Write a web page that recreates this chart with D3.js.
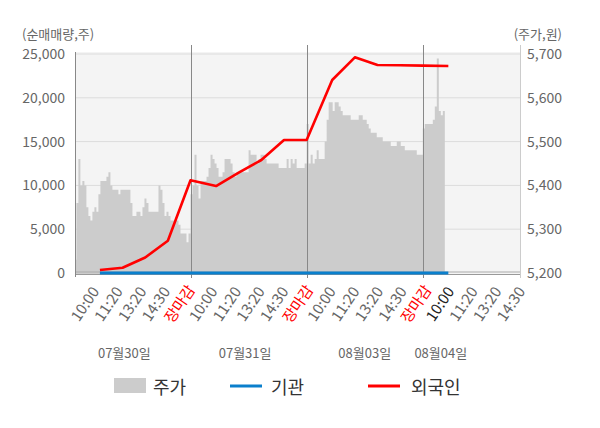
<!DOCTYPE html>
<html>
<head>
<meta charset="utf-8">
<script src="https://cdn.jsdelivr.net/npm/d3@7"></script>
<style>
  body { margin: 0; background: #fff; }
  svg { display: block; font-family: "Noto Sans CJK KR", "Noto Sans", sans-serif; }
</style>
</head>
<body>
<svg id="chart" width="600" height="428"></svg>
<script>
// trading days and intraday label slots
const dayNames = ['07월30일', '07월31일', '08월03일', '08월04일'];
const timeLabels = ['10:00', '11:20', '13:20', '14:30', '장마감'];

// cumulative net buying (shares) at each labelled slot
const foreign = [350, 600, 1770, 3690, 10580, 9930, 11450, 12900, 15180, 15180,
  22030, 24620, 23740, 23710, 23670, 23630];
const institution = [0, 0, 0, 0, 0, 0, 0, 0, 0, 0, 0, 0, 0, 0, 0, 0];

// share price (won), sampled evenly through each session
const priceD1 = [5230, 5360, 5460, 5400, 5410, 5400, 5350, 5330, 5320, 5340,
  5350, 5340, 5380, 5410, 5410, 5410, 5420, 5430, 5400, 5390,
  5390, 5390, 5380, 5390, 5390, 5390, 5390, 5390, 5360, 5330,
  5330, 5340, 5340, 5330, 5350, 5370, 5360, 5340, 5340, 5340,
  5340, 5340, 5400, 5390, 5360, 5330, 5340, 5330, 5320, 5320,
  5320, 5320, 5310, 5290, 5290, 5290, 5270, 5290];
const priceD2 = [5380, 5400, 5470, 5400, 5370, 5410, 5410, 5410, 5420, 5440,
  5470, 5460, 5450, 5440, 5420, 5420, 5430, 5460, 5460, 5460,
  5450, 5430, 5420, 5430, 5430, 5430, 5430, 5430, 5430, 5480,
  5470, 5470, 5470, 5450, 5460, 5470, 5470, 5460, 5450, 5450,
  5450, 5450, 5450, 5450, 5440, 5440, 5440, 5440, 5460, 5440,
  5460, 5450, 5460, 5440, 5440, 5440, 5440, 5450];
const priceD3 = [5540, 5450, 5470, 5450, 5460, 5480, 5460, 5460, 5460, 5500,
  5550, 5590, 5590, 5570, 5590, 5590, 5580, 5570, 5560, 5560,
  5560, 5560, 5550, 5550, 5550, 5550, 5560, 5560, 5550, 5550,
  5540, 5530, 5520, 5520, 5520, 5510, 5510, 5510, 5500, 5500,
  5500, 5500, 5490, 5490, 5490, 5500, 5500, 5490, 5490, 5480,
  5480, 5480, 5480, 5480, 5480, 5470, 5470, 5470];
const priceD4 = [5530, 5540, 5540, 5540, 5540, 5550, 5580, 5690, 5570, 5560, 5570];

const leftTicks = [0, 5000, 10000, 15000, 20000, 25000];
const rightTicks = [5200, 5300, 5400, 5500, 5600, 5700];

// layout
const plot = { l: 76, r: 520, t: 52, b: 274 };
const STEP = 1 / 58;      // one price sample, in days
const TICK_GAP = 0.195;   // spacing of time slots, in days
const DATE_POS = [0.43, 1.47, 2.5, 3.155];
const FONT = '"Noto Sans CJK KR", "Noto Sans", sans-serif';

const svg = d3.select('#chart');

const x = d3.scaleLinear().domain([0.014, 3.837]).range([plot.l, plot.r]);
const yL = d3.scaleLinear().domain([0, 25000]).range([273, 54]);
const yR = d3.scaleLinear().domain([5200, 5700]).range([273, 54]);

// slots: 10:00 .. 장마감 for every day, trimmed to the visible range
const slots = dayNames.flatMap((dn, d) => timeLabels.map((lab, k) => ({
  d, k, lab, t: d + 1 - (4 - k) * TICK_GAP
}))).filter(s => s.t <= x.domain()[1]);

// the time labels sit evenly under the plot
const xLabel = d3.scalePoint().domain(d3.range(slots.length)).range([85, 511]);

// background
svg.append('rect')
  .attr('x', plot.l).attr('y', plot.t)
  .attr('width', plot.r - plot.l).attr('height', plot.b - plot.t)
  .attr('fill', '#f4f4f4');

svg.append('defs').append('clipPath').attr('id', 'clip')
  .append('rect')
  .attr('x', plot.l).attr('y', 40)
  .attr('width', plot.r - plot.l).attr('height', plot.b - 40);

// grid
svg.append('g').selectAll('line')
  .data(leftTicks.filter(v => v > 0))
  .join('line')
  .attr('x1', plot.l).attr('x2', plot.r)
  .attr('y1', d => yL(d)).attr('y2', d => yL(d))
  .attr('stroke', '#dcdcdc').attr('stroke-width', 1);

// price area
const pricePts = [priceD1, priceD2, priceD3, priceD4]
  .flatMap((arr, d) => arr.map((p, i) => ({ t: d + i * STEP, p })));
const lastPt = pricePts[pricePts.length - 1];
pricePts.push({ t: lastPt.t + STEP, p: lastPt.p });

svg.append('path')
  .datum(pricePts)
  .attr('clip-path', 'url(#clip)')
  .attr('fill', '#cccccc')
  .attr('d', d3.area()
    .curve(d3.curveStepAfter)
    .x(d => x(d.t))
    .y0(plot.b)
    .y1(d => yR(d.p)));

// zero line and bottom axis
svg.append('line')
  .attr('x1', plot.l).attr('x2', plot.r)
  .attr('y1', yL(0) - 1).attr('y2', yL(0) - 1)
  .attr('stroke', '#aaa');
svg.append('line')
  .attr('x1', plot.l).attr('x2', plot.r)
  .attr('y1', plot.b + 0.5).attr('y2', plot.b + 0.5)
  .attr('stroke', '#999');

// day separators
svg.append('g').selectAll('line')
  .data([1, 2, 3])
  .join('line')
  .attr('x1', d => Math.round(x(d)) + 0.5).attr('x2', d => Math.round(x(d)) + 0.5)
  .attr('y1', 45).attr('y2', plot.b + 4)
  .attr('stroke', '#888');

// side axis lines
svg.append('line')
  .attr('x1', plot.l - 0.5).attr('x2', plot.l - 0.5)
  .attr('y1', plot.t).attr('y2', plot.b + 3)
  .attr('stroke', '#888');
svg.append('line')
  .attr('x1', plot.r + 0.5).attr('x2', plot.r + 0.5)
  .attr('y1', 45).attr('y2', plot.b + 4)
  .attr('stroke', '#ccc');

// series lines
const line = d3.line().x(d => x(d.s.t)).y(d => yL(d.v));
const seriesPts = vals => vals.map((v, i) => ({ s: slots[i], v }));

svg.append('path')
  .datum(seriesPts(institution))
  .attr('fill', 'none')
  .attr('stroke', '#0a7fcc')
  .attr('stroke-width', 3)
  .attr('d', line);

svg.append('path')
  .datum(seriesPts(foreign))
  .attr('fill', 'none')
  .attr('stroke', '#ff0000')
  .attr('stroke-width', 2.6)
  .attr('stroke-linejoin', 'round')
  .attr('d', line);

// left axis
const leftAxis = svg.append('g')
  .attr('transform', `translate(${plot.l},0)`)
  .call(d3.axisLeft(yL).tickValues(leftTicks).tickSize(0).tickPadding(11)
    .tickFormat(d3.format(',')));
leftAxis.select('.domain').remove();
leftAxis.selectAll('text')
  .attr('fill', '#666').style('font-size', '14px').style('font-family', FONT);

// right axis
const rightAxis = svg.append('g')
  .attr('transform', `translate(${plot.r},0)`)
  .call(d3.axisRight(yR).tickValues(rightTicks).tickSize(0).tickPadding(7)
    .tickFormat(d3.format(',')));
rightAxis.select('.domain').remove();
rightAxis.selectAll('text')
  .attr('fill', '#666').style('font-size', '14px').style('font-family', FONT);

// time labels
svg.append('g').selectAll('text')
  .data(slots)
  .join('text')
  .attr('transform', (s, i) => `translate(${xLabel(i)},304) rotate(-56)`)
  .attr('text-anchor', 'middle')
  .attr('dy', '0.35em')
  .style('font-size', '15px')
  .attr('fill', s => {
    if (s.lab === '장마감') return '#ff0000';
    if (s.d === 3 && s.k === 0) return '#222';
    return '#666';
  })
  .text(s => s.lab);

// date labels
svg.append('g').selectAll('text')
  .data(dayNames)
  .join('text')
  .attr('x', (d, i) => x(DATE_POS[i]))
  .attr('y', 358)
  .attr('text-anchor', 'middle')
  .attr('fill', '#666')
  .style('font-size', '13px')
  .text(d => d);

// axis titles
svg.append('text')
  .attr('x', 22).attr('y', 39)
  .attr('fill', '#666').style('font-size', '13px')
  .text('(순매매량,주)');
svg.append('text')
  .attr('x', 562).attr('y', 39)
  .attr('text-anchor', 'end')
  .attr('fill', '#666').style('font-size', '13px')
  .text('(주가,원)');

// legend
const legend = svg.append('g').style('font-size', '18px');
legend.append('rect')
  .attr('x', 114).attr('y', 378).attr('width', 32).attr('height', 15)
  .attr('fill', '#cccccc');
legend.append('text').attr('x', 153).attr('y', 394).attr('fill', '#333').text('주가');
legend.append('line')
  .attr('x1', 230).attr('x2', 262).attr('y1', 386).attr('y2', 386)
  .attr('stroke', '#0a7fcc').attr('stroke-width', 3);
legend.append('text').attr('x', 271).attr('y', 394).attr('fill', '#333').text('기관');
legend.append('line')
  .attr('x1', 368).attr('x2', 400).attr('y1', 386).attr('y2', 386)
  .attr('stroke', '#ff0000').attr('stroke-width', 3);
legend.append('text').attr('x', 411).attr('y', 394).attr('fill', '#333').text('외국인');
</script>
</body>
</html>
